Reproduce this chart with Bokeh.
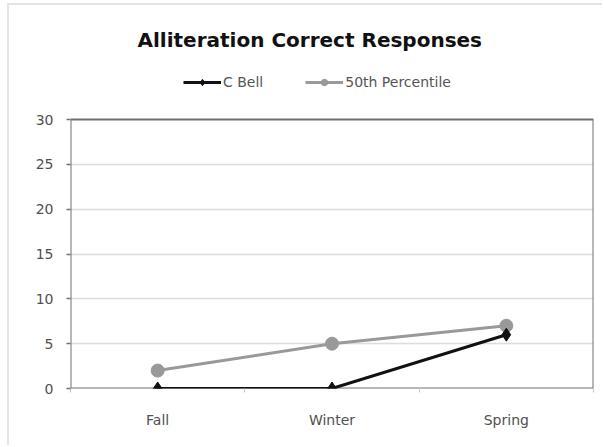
from bokeh.plotting import figure
from bokeh.models import Legend, LegendItem, Range1d, FixedTicker
from bokeh.embed import file_html
from bokeh.resources import INLINE

seasons = ["Fall", "Winter", "Spring"]
c_bell = [0, 0, 6]
percentile_50 = [2, 5, 7]
y_ticks = [0, 5, 10, 15, 20, 25, 30]

FONT = "DejaVu Sans"
AXIS_GREY = "#707070"
BLACK = "#111111"
GREY = "#999999"

# canvas geometry (pixels)
W, H = 595, 442
LEFT, RIGHT, BOTTOM = 61, 11, 59
TOP = 55                 # the drawing area reaches up to hold the legend
PLOT_TOP = 114           # where the value 30 sits
y_max = max(y_ticks)
y_top = y_max * (H - BOTTOM - TOP) / (H - BOTTOM - PLOT_TOP)

xs = [i + 0.5 for i in range(len(seasons))]

p = figure(
    width=W, height=H,
    x_range=Range1d(0, len(seasons)),
    y_range=Range1d(0, y_top),
    output_backend="svg", toolbar_location=None,
    min_border_left=LEFT, min_border_right=RIGHT,
    min_border_top=TOP, min_border_bottom=BOTTOM,
    background_fill_color="white", border_fill_color="white",
)
# light outer chart border
p.styles = {
    "margin-left": "7px", "margin-top": "3px",
    "border-left": "2px solid #e4e4e4", "border-top": "2px solid #e4e4e4",
}
p.outline_line_color = None

p.title.text = "Alliteration Correct Responses"
p.title.align = "left"
p.title.offset = 67
p.title.standoff = 18
p.title.text_font = FONT
p.title.text_font_size = "20px"
p.title.text_font_style = "bold"
p.title.text_color = BLACK

# grid
p.xgrid.grid_line_color = None
p.ygrid.grid_line_color = "#dcdcdc"
p.ygrid.grid_line_width = 1.5
p.ygrid.ticker = FixedTicker(ticks=y_ticks[1:-1])

# plot box
p.quad(left=[0], right=[len(seasons)], bottom=[y_ticks[0]], top=[y_max],
       fill_color=None, line_color=AXIS_GREY, line_width=2)

# axes
p.yaxis.ticker = FixedTicker(ticks=y_ticks)
p.yaxis.axis_line_color = None
p.yaxis.major_tick_line_color = AXIS_GREY
p.yaxis.major_tick_line_width = 1.5
p.yaxis.major_tick_in = 0
p.yaxis.major_tick_out = 4
p.yaxis.minor_tick_line_color = None
p.yaxis.major_label_standoff = 13

p.xaxis.ticker = FixedTicker(ticks=xs, minor_ticks=list(range(len(seasons) + 1)))
p.xaxis.major_label_overrides = {x: s for x, s in zip(xs, seasons)}
p.xaxis.axis_line_color = None
p.xaxis.major_tick_line_color = None
p.xaxis.major_tick_in = 0
p.xaxis.major_tick_out = 0
p.xaxis.minor_tick_line_color = "#c8c8c8"
p.xaxis.minor_tick_in = 0
p.xaxis.minor_tick_out = 4
p.xaxis.major_label_standoff = 19

for ax in (p.xaxis, p.yaxis):
    ax.major_label_text_font = FONT
    ax.major_label_text_font_size = "14px"
    ax.major_label_text_color = "#505050"

# small legend markers, drawn under the series markers
black_key = p.scatter(xs[:1], c_bell[:1], marker="diamond", size=8,
                      fill_color=BLACK, line_color=BLACK)
gray_key = p.scatter(xs[:1], percentile_50[:1], marker="circle", size=6,
                     fill_color=GREY, line_color=GREY)

# series
gray_line = p.line(xs, percentile_50, line_color=GREY, line_width=3)
p.scatter(xs, percentile_50, marker="circle", size=13,
          fill_color=GREY, line_color=GREY)
black_line = p.line(xs, c_bell, line_color=BLACK, line_width=3)
p.scatter(xs, c_bell, marker="diamond", size=13,
          fill_color=BLACK, line_color=BLACK)

legend = Legend(
    items=[
        LegendItem(label="C Bell", renderers=[black_line, black_key]),
        LegendItem(label="50th Percentile", renderers=[gray_line, gray_key]),
    ],
    orientation="horizontal", location=(113, 298),
    label_text_font=FONT, label_text_font_size="14px", label_text_color="#555555",
    glyph_width=38, glyph_height=16, label_standoff=2, spacing=42,
    border_line_color=None, background_fill_alpha=0,
    margin=0, padding=0,
)
p.add_layout(legend, "center")

open("out.html", "w").write(file_html(p, INLINE))
